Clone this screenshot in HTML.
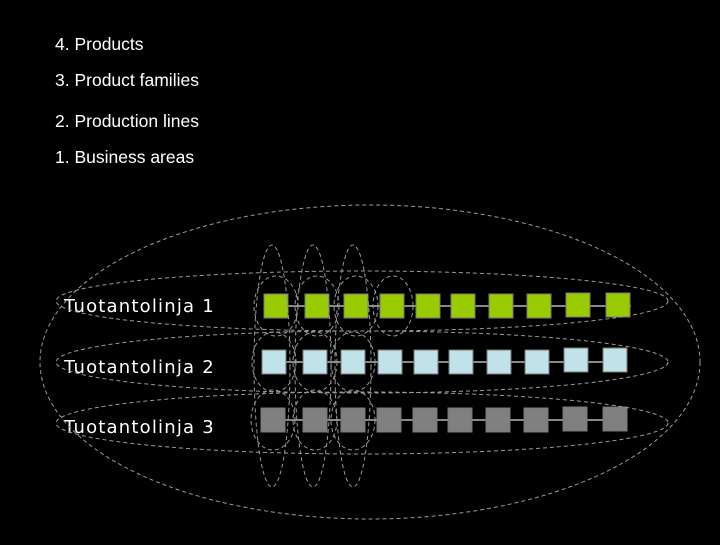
<!DOCTYPE html>
<html><head><style>
body{margin:0;background:#000;width:720px;height:540px;overflow:hidden;font-family:"Liberation Sans",sans-serif}
</style></head><body>
<svg width="720" height="540" xmlns="http://www.w3.org/2000/svg">
<rect width="720" height="540" fill="#000"/>
<g fill="#fff" font-family="Liberation Sans, sans-serif" font-size="17.5">
<text x="55" y="50">4. Products</text>
<text x="55" y="86">3. Product families</text>
<text x="55" y="127">2. Production lines</text>
<text x="55" y="163">1. Business areas</text>
</g>
<g fill="#fff" font-family="DejaVu Sans, sans-serif" font-size="18" letter-spacing="1.2">
<text x="64" y="312">Tuotantolinja 1</text>
<text x="64" y="373">Tuotantolinja 2</text>
<text x="64" y="433">Tuotantolinja 3</text>
</g>
<g stroke="#888" stroke-width="2">
<line x1="264" y1="306" x2="631" y2="306"/>
<line x1="262" y1="362" x2="627" y2="362"/>
<line x1="261" y1="420" x2="627" y2="420"/>
</g>
<g stroke="#777" stroke-width="1">
<g fill="#99cc00">
<rect x="264" y="294" width="24" height="24"/><rect x="305" y="294" width="24" height="24"/><rect x="344" y="294" width="24" height="24"/><rect x="380" y="294" width="24" height="24"/><rect x="416" y="294" width="24" height="24"/><rect x="451" y="294" width="24" height="24"/><rect x="489" y="294" width="24" height="24"/><rect x="527" y="294" width="24" height="24"/><rect x="566" y="293" width="24" height="24"/><rect x="606" y="293" width="24" height="24"/>
</g>
<g fill="#bfe3e8">
<rect x="262" y="350" width="24" height="24"/><rect x="303" y="350" width="24" height="24"/><rect x="341" y="350" width="24" height="24"/><rect x="378" y="350" width="24" height="24"/><rect x="414" y="350" width="24" height="24"/><rect x="449" y="350" width="24" height="24"/><rect x="487" y="350" width="24" height="24"/><rect x="525" y="350" width="24" height="24"/><rect x="564" y="348" width="24" height="24"/><rect x="603" y="348" width="24" height="24"/>
</g>
<g fill="#808080">
<rect x="261" y="408" width="24" height="24"/><rect x="303" y="408" width="24" height="24"/><rect x="341" y="408" width="24" height="24"/><rect x="377" y="408" width="24" height="24"/><rect x="413" y="408" width="24" height="24"/><rect x="448" y="408" width="24" height="24"/><rect x="486" y="408" width="24" height="24"/><rect x="524" y="408" width="24" height="24"/><rect x="563" y="407" width="24" height="24"/><rect x="603" y="407" width="24" height="24"/>
</g>
</g>
<g fill="none" stroke="#999" stroke-width="1" stroke-dasharray="4,3">
<ellipse cx="370" cy="362" rx="330" ry="157"/>
<ellipse cx="362" cy="301" rx="306" ry="30"/>
<ellipse cx="362" cy="362" rx="306" ry="31"/>
<ellipse cx="362" cy="423" rx="306" ry="31"/>
<ellipse cx="272" cy="366" rx="18" ry="121"/>
<ellipse cx="313" cy="366" rx="18" ry="121"/>
<ellipse cx="353" cy="366" rx="18" ry="121"/>
<ellipse cx="276" cy="306" rx="22" ry="30"/>
<ellipse cx="317" cy="306" rx="22" ry="30"/>
<ellipse cx="356" cy="306" rx="22" ry="30"/>
<ellipse cx="393" cy="306" rx="20" ry="30"/>
<ellipse cx="274" cy="362" rx="22" ry="30"/>
<ellipse cx="315" cy="362" rx="22" ry="30"/>
<ellipse cx="353" cy="362" rx="22" ry="30"/>
<ellipse cx="273" cy="420" rx="22" ry="30"/>
<ellipse cx="315" cy="420" rx="22" ry="30"/>
<ellipse cx="353" cy="420" rx="22" ry="30"/>
</g>
</svg>
</body></html>
